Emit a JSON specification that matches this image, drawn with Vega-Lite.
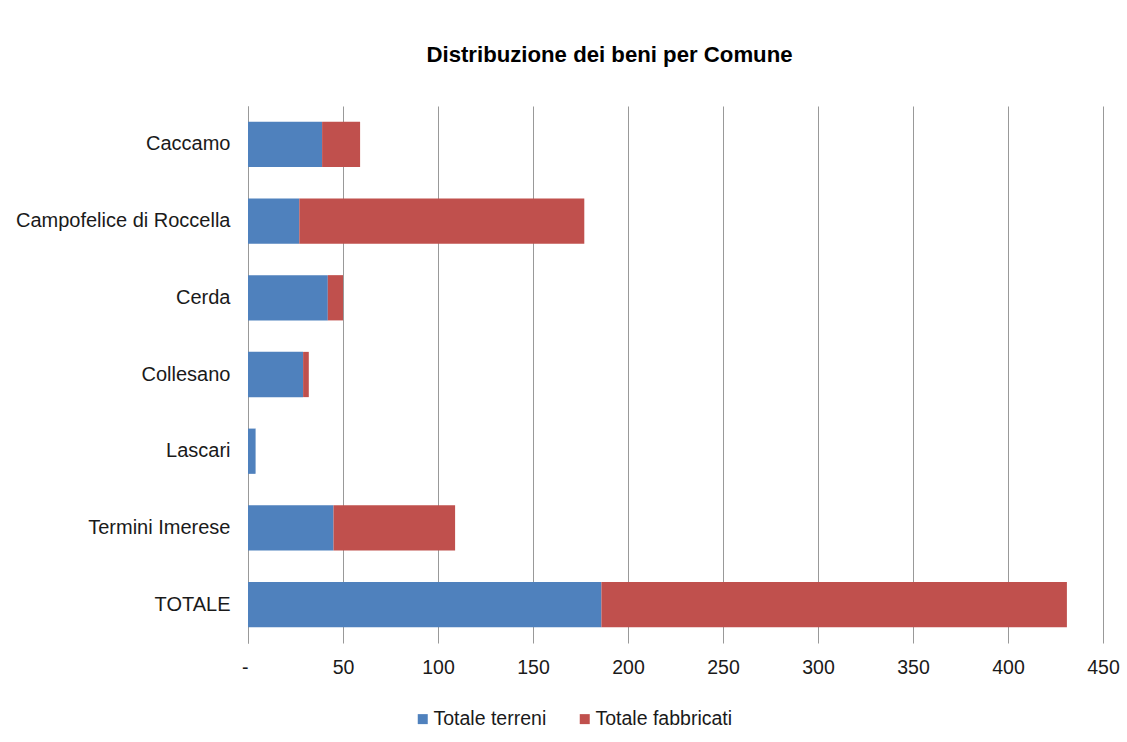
{
  "$schema": "https://vega.github.io/schema/vega-lite/v6.json",
  "width": 855,
  "height": 537,
  "autosize": {"type": "none"},
  "padding": {"left": 248, "top": 106, "right": 24, "bottom": 99},
  "background": "white",
  "title": {
    "text": "Distribuzione dei beni per Comune",
    "font": "Liberation Sans",
    "fontSize": 22.2,
    "fontWeight": "bold",
    "color": "#000000",
    "anchor": "middle",
    "dx": -66,
    "offset": 40
  },
  "data": {
    "values": [
      {"comune": "Caccamo", "tipo": "Totale terreni", "valore": 39},
      {"comune": "Caccamo", "tipo": "Totale fabbricati", "valore": 20},
      {"comune": "Campofelice di Roccella", "tipo": "Totale terreni", "valore": 27},
      {"comune": "Campofelice di Roccella", "tipo": "Totale fabbricati", "valore": 150},
      {"comune": "Cerda", "tipo": "Totale terreni", "valore": 42},
      {"comune": "Cerda", "tipo": "Totale fabbricati", "valore": 8},
      {"comune": "Collesano", "tipo": "Totale terreni", "valore": 29},
      {"comune": "Collesano", "tipo": "Totale fabbricati", "valore": 3},
      {"comune": "Lascari", "tipo": "Totale terreni", "valore": 4},
      {"comune": "Lascari", "tipo": "Totale fabbricati", "valore": 0},
      {"comune": "Termini Imerese", "tipo": "Totale terreni", "valore": 45},
      {"comune": "Termini Imerese", "tipo": "Totale fabbricati", "valore": 64},
      {"comune": "TOTALE", "tipo": "Totale terreni", "valore": 186},
      {"comune": "TOTALE", "tipo": "Totale fabbricati", "valore": 245}
    ]
  },
  "mark": {"type": "bar"},
  "encoding": {
    "y": {
      "field": "comune",
      "type": "nominal",
      "sort": null,
      "scale": {"paddingInner": 0.41, "paddingOuter": 0.205},
      "axis": {
        "title": null,
        "ticks": false,
        "grid": false,
        "domain": true,
        "domainColor": "#999999",
        "labelFont": "Liberation Sans",
        "labelFontSize": 20,
        "labelColor": "#1a1a1a",
        "labelPadding": 18,
        "labelLimit": 400
      }
    },
    "x": {
      "field": "valore",
      "type": "quantitative",
      "stack": "zero",
      "scale": {"domain": [0, 450], "nice": false},
      "axis": {
        "title": null,
        "values": [0, 50, 100, 150, 200, 250, 300, 350, 400, 450],
        "labelExpr": "datum.value == 0 ? '-' : datum.label",
        "labelAlign": {"expr": "datum.value == 0 ? 'right' : 'center'"},
        "grid": true,
        "gridColor": "#999999",
        "ticks": false,
        "domain": false,
        "labelFont": "Liberation Sans",
        "labelFontSize": 19.5,
        "labelColor": "#1a1a1a",
        "labelPadding": 15
      }
    },
    "color": {
      "field": "tipo",
      "type": "nominal",
      "scale": {
        "domain": ["Totale terreni", "Totale fabbricati"],
        "range": ["#4F81BD", "#C0504D"]
      },
      "legend": {
        "title": null,
        "orient": "none",
        "direction": "horizontal",
        "legendX": 165,
        "legendY": 603,
        "symbolType": "square",
        "symbolSize": 100,
        "symbolStrokeWidth": 0,
        "labelFont": "Liberation Sans",
        "labelFontSize": 19.5,
        "labelColor": "#1a1a1a",
        "labelOffset": 1,
        "columnPadding": 28
      }
    },
    "order": {"field": "tipo", "sort": "descending"}
  },
  "config": {
    "view": {"stroke": null}
  }
}
